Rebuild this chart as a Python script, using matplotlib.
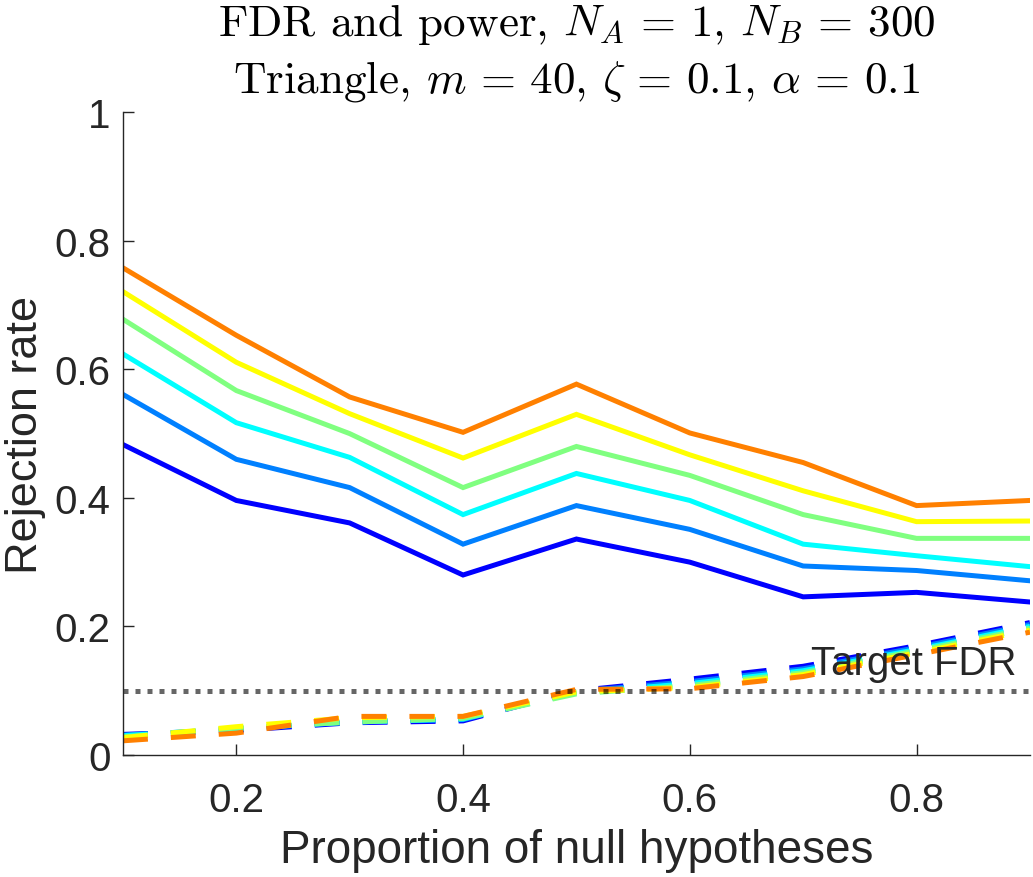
import numpy as np
import matplotlib
matplotlib.use("Agg")
import matplotlib.pyplot as plt

# proportion of null hypotheses
props = [0.1, 0.2, 0.3, 0.4, 0.5, 0.6, 0.7, 0.8, 0.9]

# power curves (solid), bottom to top
power_blue = [0.483, 0.396, 0.361, 0.280, 0.336, 0.300, 0.246, 0.253, 0.238]
power_azure = [0.561, 0.460, 0.416, 0.328, 0.388, 0.351, 0.294, 0.287, 0.271]
power_cyan = [0.624, 0.517, 0.463, 0.374, 0.438, 0.396, 0.328, 0.310, 0.293]
power_green = [0.678, 0.567, 0.500, 0.416, 0.480, 0.435, 0.374, 0.337, 0.337]
power_yellow = [0.721, 0.611, 0.531, 0.462, 0.530, 0.467, 0.411, 0.363, 0.364]
power_orange = [0.758, 0.653, 0.557, 0.502, 0.577, 0.501, 0.455, 0.388, 0.396]

# FDR curves (dashed)
fdr_blue = [0.032, 0.038, 0.050, 0.053, 0.100, 0.118, 0.138, 0.170, 0.206]
fdr_azure = [0.031, 0.040, 0.052, 0.055, 0.099, 0.114, 0.134, 0.167, 0.203]
fdr_cyan = [0.030, 0.041, 0.051, 0.056, 0.097, 0.111, 0.131, 0.164, 0.200]
fdr_green = [0.028, 0.042, 0.051, 0.057, 0.095, 0.108, 0.128, 0.162, 0.197]
fdr_yellow = [0.027, 0.044, 0.058, 0.060, 0.098, 0.105, 0.125, 0.159, 0.194]
fdr_orange = [0.022, 0.034, 0.060, 0.060, 0.102, 0.103, 0.122, 0.156, 0.191]

target_fdr = 0.1

colors = [(0, 0, 1), (0, 0.5, 1), (0, 1, 1), (0.5, 1, 0.5), (1, 1, 0), (1, 0.5, 0)]
power = [power_blue, power_azure, power_cyan, power_green, power_yellow, power_orange]
fdr = [fdr_blue, fdr_azure, fdr_cyan, fdr_green, fdr_yellow, fdr_orange]

plt.rcParams["font.family"] = ["Liberation Sans", "DejaVu Sans"]
plt.rcParams["mathtext.fontset"] = "cm"
ink = "#262626"

fig = plt.figure(figsize=(10.33, 8.78), dpi=100)
ax = fig.add_axes([0.119, 0.139, 0.878, 0.732])

for c, p in zip(colors, power):
    ax.plot(props, p, color=c, lw=3.6, solid_joinstyle="miter")
for c, f in zip(colors, fdr):
    ax.plot(props, f, color=c, lw=3.6, dashes=(5, 4.6))

ax.axhline(target_fdr, color="k", alpha=0.6, lw=3.6, dashes=(1, 1.4))
ax.text(0.888, target_fdr + 0.026, "Target FDR", ha="right", va="baseline",
        fontsize=29, color=ink)

ax.set_xlim(0.1, 0.9)
ax.set_ylim(0, 1)
ax.set_xticks([0.2, 0.4, 0.6, 0.8])
ax.set_yticks([0, 0.2, 0.4, 0.6, 0.8, 1])
ax.set_yticklabels(["0", "0.2", "0.4", "0.6", "0.8", "1"])
ax.tick_params(direction="in", length=8, width=1, colors=ink, labelsize=29)
ax.tick_params(axis="x", pad=19)
ax.tick_params(axis="y", pad=9)
for s in ["top", "right"]:
    ax.spines[s].set_visible(False)
for s in ["left", "bottom"]:
    ax.spines[s].set_color(ink)
    ax.spines[s].set_linewidth(1)

ax.set_xlabel("Proportion of null hypotheses", fontsize=33, color=ink, va="baseline")
ax.xaxis.set_label_coords(0.5, -0.1664)
ax.set_ylabel("Rejection rate", fontsize=32.5, color=ink, va="baseline",
              ha="center", rotation_mode="anchor")
ax.yaxis.set_label_coords(-0.0948, 0.5)

# two-line LaTeX-style title, centred over the axes
title_x = 0.119 + 0.878 / 2
fig.text(title_x, 1 - 36 / 878,
         r"FDR and power, $N_A \,=\, 1$, $N_B \,=\, 300$",
         family="cmr10", fontsize=32.5, ha="center", va="baseline")
fig.text(title_x, 1 - 93 / 878,
         r"Triangle, $m \,=\, 40$, $\zeta \,=\, 0.1$, $\alpha \,=\, 0.1$",
         family="cmr10", fontsize=32.5, ha="center", va="baseline")

fig.savefig("out.png", dpi=100)
